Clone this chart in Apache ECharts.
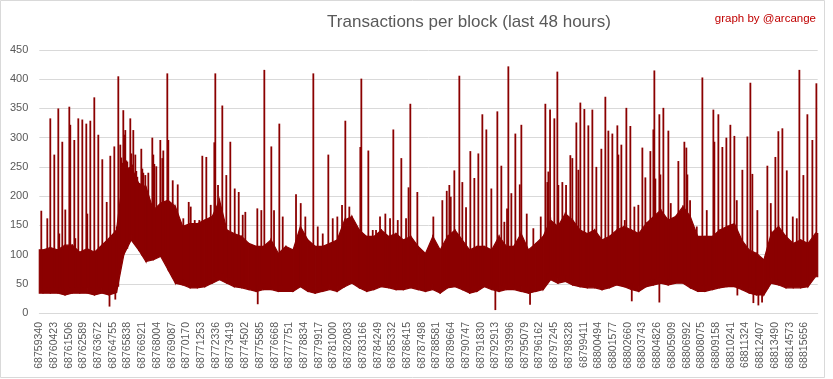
<!DOCTYPE html>
<html>
<head>
<meta charset="utf-8">
<script src="https://cdn.jsdelivr.net/npm/echarts@6/dist/echarts.min.js"></script>
<style>
html,body{margin:0;padding:0;background:#fff;}
#chart{width:833px;height:379px;}
</style>
</head>
<body>
<div id="chart"></div>
<script>
// first block shown on the x axis; block positions below are offsets from it
const firstBlock = 68759340;
const labelStep = 1083;        // blocks between x labels
const lastOffset = 57300;      // last block in window (offset)
const yTicks = [0, 50, 100, 150, 200, 250, 300, 350, 400, 450];

// dense band (two samples per label step): lower and upper edge of the bulk of blocks
const bandLow = [34,34,34,31,34,34,34,31,34,31,35,100,125,108,88,91,97,74,51,48,
  43,43,45,51,57,51,45,43,40,37,40,40,37,37,37,45,37,34,37,40,
  37,45,51,43,37,40,45,43,40,40,43,40,37,40,34,43,45,40,34,37,
  45,40,37,40,40,37,34,37,40,57,51,54,48,45,43,43,40,43,48,45,
  40,37,45,48,51,48,51,51,43,37,37,40,43,45,45,40,34,31,31,51,
  48,43,43,43,45,62];
const bandTop = [108,112,108,116,116,104,110,104,116,128,142,245,250,222,216,176,188,193,182,148,
  153,153,159,165,193,142,136,131,119,114,114,125,102,114,108,148,125,114,114,119,
  125,159,165,142,131,131,142,131,136,125,131,114,102,131,108,131,142,125,108,114,
  114,108,131,114,114,136,108,119,131,159,148,170,159,142,136,142,125,131,142,148,
  142,136,153,165,176,159,165,182,165,131,131,131,142,148,153,125,108,102,91,136,
  148,131,119,125,119,136];

// individual blocks standing out above the band: offset from firstBlock, transactions
const spikeBlock = [147,589,810,1104,1399,1472,1693,1914,2209,2282,2577,2650,2871,3166,3460,3534,3755,4049,4344,4638,
  4962,5227,5522,5698,5816,5963,6037,6110,6184,6258,6331,6405,6479,6699,6773,6847,6920,7068,7141,7215,
  7509,7583,7656,7804,8025,8319,8393,8466,8614,8908,9055,9129,9423,9497,9821,10189,10601,10999,11146,11441,
  11779,12000,12295,12619,12884,12957,13156,13472,13767,14061,14385,14680,14974,15166,16049,16344,16565,17080,17279,17669,
  17919,18898,19244,19583,20172,20496,20864,21276,21600,21939,22285,22528,22822,23632,23706,24221,24545,24788,25082,25473,
  25819,26061,26386,26650,26997,27181,27313,27828,29006,29669,29993,30184,30287,30552,30920,31141,31413,31730,32025,32319,
  32614,32908,33276,33718,34012,34233,34432,34528,34749,35043,35367,35485,35882,36368,36913,37252,37399,37473,37598,37914,
  38135,38209,38503,38776,39092,39239,39534,39681,39828,40123,40417,40712,41006,41374,41669,41890,42184,42552,42626,42847,
  43097,43215,43509,43804,44098,44393,44614,44982,45203,45276,45350,45644,45718,45939,46307,46484,47043,47485,47632,47706,
  47905,48398,48810,49134,49620,49694,49988,50282,50577,50871,51166,51343,51755,52123,52344,52491,52859,53595,53846,54184,
  54405,54700,55024,55465,55760,55951,56246,56540,56908,57203];
const spikeValue = [175,162,333,271,350,136,293,177,353,322,296,128,333,331,324,170,329,369,305,263,
  190,269,285,148,405,288,266,257,347,305,313,261,259,333,273,254,313,271,243,233,
  281,247,240,236,240,300,271,255,251,296,265,278,410,296,227,220,162,190,182,159,
  159,269,267,185,292,410,219,355,236,293,213,207,168,173,179,176,416,285,176,324,
  165,203,188,165,410,148,136,271,162,165,185,329,182,284,401,278,142,142,165,170,
  162,314,159,265,162,215,358,207,165,193,209,219,199,244,406,224,181,277,231,273,
  340,314,213,345,252,156,179,422,205,307,220,322,170,145,165,358,224,242,348,333,
  413,219,224,219,270,265,326,245,360,349,321,348,250,281,370,312,307,321,271,288,
  159,351,320,182,185,283,232,277,314,415,230,340,237,351,312,188,260,293,283,237,
  193,148,403,176,348,293,340,284,300,322,303,193,245,302,394,238,176,252,188,267,
  311,316,244,165,162,416,236,340,296,393];

// blocks dipping below the band: offset from firstBlock, transactions
const dipBlock = [5168,5595,16079,33571,36125,43613,45644,51387,52565,52933,53205];
const dipValue = [11,23,15,5,14,20,18,30,17,13,18];

const RED = '#8b0000';
const TXT = '#595959';
const FONT = '"Liberation Sans",Arial,sans-serif';

const bucket = labelStep / 2;
const bandX = bandLow.map((_, i) => (i + 0.5) * bucket);
const bandData = bandLow.map((v, i) => [bandX[i], v, bandTop[i]]);
const spikes = spikeBlock.map((b, i) => [b, spikeValue[i]]);
const dips = dipBlock.map((b, i) => [b, dipValue[i]]);

function bandAt(arr, block) {
  const i = Math.min(arr.length - 1, Math.max(0, Math.floor(block / bucket)));
  return arr[i];
}

function bandItem(params, api) {
  const i = params.dataIndex;
  const n = bandX.length;
  const st = {fill: RED, stroke: RED, lineWidth: 1.2, lineJoin: 'miter'};
  const quad = (xa, la, ha, xb, lb, hb) => ({type: 'polygon',
    shape: {points: [api.coord([xa, la]), api.coord([xa, ha]), api.coord([xb, hb]), api.coord([xb, lb])]}, style: st});
  const kids = [];
  if (i === 0) kids.push(quad(0, bandLow[0], bandTop[0], bandX[0], bandLow[0], bandTop[0]));
  if (i < n - 1) kids.push(quad(bandX[i], bandLow[i], bandTop[i], bandX[i + 1], bandLow[i + 1], bandTop[i + 1]));
  else kids.push(quad(bandX[i], bandLow[i], bandTop[i], lastOffset, bandLow[i], bandTop[i]));
  return {type: 'group', children: kids};
}

function vLine(api, x, y0, y1, w) {
  const p1 = api.coord([x, y0]);
  const p2 = api.coord([x, y1]);
  return {type: 'line', shape: {x1: p1[0], y1: p1[1], x2: p2[0], y2: p2[1]},
          style: {stroke: RED, lineWidth: w}};
}

const chart = echarts.init(document.getElementById('chart'), null, {renderer: 'canvas'});
chart.setOption({
  animation: false,
  backgroundColor: '#fff',
  title: [
    {text: 'Transactions per block (last 48 hours)', left: 464, top: 9, textAlign: 'center',
     textStyle: {color: TXT, fontSize: 17, fontWeight: 'normal', fontFamily: FONT}},
    {text: 'graph by @arcange', right: 12, top: 8,
     textStyle: {color: '#c00000', fontSize: 11.5, fontWeight: 'normal', fontFamily: FONT}}
  ],
  graphic: [{type: 'rect', shape: {x: 0.5, y: 0.5, width: 824, height: 377},
    style: {fill: 'none', stroke: '#d9d9d9', lineWidth: 1}, silent: true}],
  grid: {left: 39.3, right: 15.3, top: 50, bottom: 66, containLabel: false},
  xAxis: {
    type: 'value', min: 0, max: lastOffset, interval: labelStep,
    axisLine: {show: true, lineStyle: {color: '#d9d9d9', width: 1}},
    axisTick: {show: false}, splitLine: {show: false},
    axisLabel: {rotate: 90, color: TXT, fontSize: 10.5, fontFamily: FONT, margin: 9,
      showMaxLabel: false,
      formatter: v => (v % labelStep === 0 ? String(firstBlock + v) : '')}
  },
  yAxis: {
    type: 'value', min: yTicks[0], max: yTicks[yTicks.length - 1], interval: yTicks[1] - yTicks[0],
    axisLine: {show: false}, axisTick: {show: false},
    splitLine: {lineStyle: {color: '#d9d9d9', width: 1}},
    axisLabel: {color: TXT, fontSize: 11, fontFamily: FONT, margin: 11}
  },
  series: [
    {type: 'custom', data: bandData, silent: true, z: 2, renderItem: bandItem,
     encode: {x: 0, y: [1, 2]}},
    {type: 'custom', data: spikes, silent: true, z: 3, encode: {x: 0, y: 1},
     renderItem: (params, api) => vLine(api, api.value(0), bandAt(bandLow, api.value(0)) + 10, api.value(1), 1.8)},
    {type: 'custom', data: dips, silent: true, z: 3, encode: {x: 0, y: 1},
     renderItem: (params, api) => vLine(api, api.value(0), api.value(1), bandAt(bandLow, api.value(0)) + 10, 1.8)}
  ]
});
</script>
</body>
</html>
